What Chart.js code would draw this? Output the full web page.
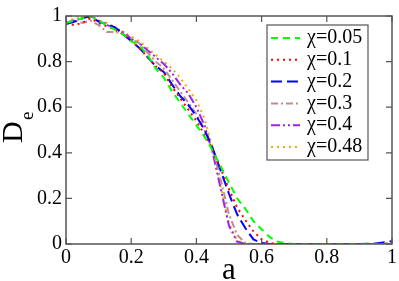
<!DOCTYPE html>
<html>
<head>
<meta charset="utf-8">
<script src="https://cdn.jsdelivr.net/npm/chart.js@4.4.1/dist/chart.umd.min.js"></script>
<style>
  html, body { margin: 0; padding: 0; background: #fff; }
  #wrap { width: 399px; height: 281px; }
</style>
</head>
<body>
<div id="wrap"><canvas id="deChart"></canvas></div>
<script>
const aValues = [0, 0.025, 0.05, 0.075, 0.1, 0.125, 0.15, 0.175, 0.2, 0.225, 0.25, 0.275, 0.3, 0.325, 0.35, 0.375, 0.4, 0.425, 0.45, 0.475, 0.5, 0.525, 0.55, 0.575, 0.6, 0.625, 0.65, 0.675, 0.7, 0.8, 0.9, 0.95, 1.0];

const chiLabels = ['χ=0.05', 'χ=0.1', 'χ=0.2', 'χ=0.3', 'χ=0.4', 'χ=0.48'];

const de005 = [0.97, 0.98, 0.99, 1.0, 0.98, 0.96, 0.94, 0.92, 0.89, 0.87, 0.83, 0.77, 0.73, 0.67, 0.62, 0.57, 0.52, 0.47, 0.41, 0.34, 0.27, 0.2, 0.155, 0.1, 0.065, 0.03, 0.01, 0.003, 0, 0, 0, 0, 0];
const de01  = [0.97, 0.96, 0.97, 0.99, 0.97, 0.955, 0.94, 0.92, 0.89, 0.86, 0.82, 0.78, 0.75, 0.69, 0.64, 0.59, 0.54, 0.48, 0.41, 0.33, 0.24, 0.16, 0.105, 0.055, 0.02, 0.005, 0, 0, 0, 0, 0, 0, 0.003];
const de02  = [0.965, 0.975, 0.99, 1.0, 0.975, 0.965, 0.95, 0.92, 0.89, 0.86, 0.82, 0.78, 0.755, 0.7, 0.65, 0.61, 0.56, 0.5, 0.42, 0.32, 0.22, 0.13, 0.07, 0.02, 0.004, 0, 0, 0, 0, 0, 0, 0.002, 0.012];
const de03  = [0.97, 0.98, 0.97, 0.98, 0.96, 0.93, 0.93, 0.92, 0.9, 0.88, 0.84, 0.8, 0.77, 0.72, 0.67, 0.62, 0.57, 0.5, 0.41, 0.28, 0.13, 0.04, 0.005, 0, 0, 0, 0, 0, 0, 0, 0, 0, 0];
const de04  = [0.97, 0.98, 0.99, 1.0, 0.98, 0.96, 0.95, 0.93, 0.9, 0.88, 0.85, 0.82, 0.79, 0.75, 0.7, 0.66, 0.6, 0.52, 0.4, 0.24, 0.08, 0.01, 0, 0, 0, 0, 0, 0, 0, 0, 0, 0, 0];
const de048 = [0.97, 0.99, 1.0, 0.99, 0.98, 0.97, 0.95, 0.93, 0.91, 0.89, 0.86, 0.83, 0.8, 0.77, 0.73, 0.68, 0.63, 0.55, 0.42, 0.25, 0.09, 0.015, 0, 0, 0, 0, 0, 0, 0, 0, 0, 0, 0];

const tickValues = [0, 0.2, 0.4, 0.6, 0.8, 1];

const seriesList = [de005, de01, de02, de03, de04, de048];
const colors = ['#00ff00', '#ff0000', '#0000ff', '#bc8f8f', '#a020f0', '#ffa500'];
const dashes = [[7, 5], [2, 4], [11, 5], [7, 3, 2, 3], [9, 3, 2, 3, 2, 3], [2, 4]];

function toPoints(ys) {
	return aValues.map((a, i) => ({ x: a, y: ys[i] }));
}

const serif = "'Liberation Serif', serif";

// inward ticks on all four sides, frame, axis titles, legend
const innerTicks = {
	id: 'innerTicks',
	afterDraw(chart) {
		const ctx = chart.ctx;
		const ca = chart.chartArea;
		const xs = chart.scales.x, ys = chart.scales.y;
		ctx.save();
		ctx.strokeStyle = '#555';
		ctx.lineWidth = 1.2;
		ctx.beginPath();
		tickValues.forEach(v => {
			const px = xs.getPixelForValue(v);
			ctx.moveTo(px, ca.bottom); ctx.lineTo(px, ca.bottom - 6);
			ctx.moveTo(px, ca.top); ctx.lineTo(px, ca.top + 6);
			const py = ys.getPixelForValue(v);
			ctx.moveTo(ca.left, py); ctx.lineTo(ca.left + 6, py);
			ctx.moveTo(ca.right, py); ctx.lineTo(ca.right - 6, py);
		});
		ctx.stroke();
		ctx.lineWidth = 1.5;
		ctx.strokeRect(ca.left, ca.top, ca.right - ca.left, ca.bottom - ca.top);

		ctx.fillStyle = '#000';
		ctx.font = '31px ' + serif;
		ctx.textAlign = 'center';
		ctx.textBaseline = 'alphabetic';
		ctx.fillText('a', 229, 279);

		ctx.translate(22, 143);
		ctx.rotate(-Math.PI / 2);
		ctx.textAlign = 'left';
		ctx.font = '30px ' + serif;
		ctx.fillText('D', 0, 0);
		ctx.font = '19px ' + serif;
		ctx.fillText('e', 23, 11);
		ctx.restore();

		ctx.save();
		const lx = 267, ly = 25, lw = 101, lh = 135;
		ctx.fillStyle = '#fff';
		ctx.fillRect(lx, ly, lw, lh);
		ctx.strokeStyle = '#555';
		ctx.lineWidth = 1.2;
		ctx.strokeRect(lx, ly, lw, lh);
		ctx.font = '20px ' + serif;
		ctx.textBaseline = 'middle';
		chiLabels.forEach((lab, i) => {
			const y = 38 + i * 21.8;
			ctx.strokeStyle = colors[i];
			ctx.lineWidth = 2;
			ctx.setLineDash(dashes[i]);
			ctx.beginPath();
			ctx.moveTo(271, y); ctx.lineTo(300, y);
			ctx.stroke();
			ctx.setLineDash([]);
			ctx.fillStyle = '#000';
			ctx.fillText(lab, 307, y);
		});
		ctx.restore();
	}
};

function makeChart() {
	new Chart(document.getElementById('deChart'), {
		type: 'scatter',
		data: {
			datasets: seriesList.map((ys, i) => ({
				label: chiLabels[i],
				data: toPoints(ys),
				showLine: true,
				borderColor: colors[i],
				backgroundColor: colors[i],
				borderWidth: 2,
				borderDash: dashes[i],
				pointRadius: 0,
				tension: 0
			}))
		},
		options: {
			responsive: true,
			maintainAspectRatio: false,
			animation: false,
			layout: { padding: { top: 7, right: 5, left: 0, bottom: 0 } },
			plugins: {
				legend: { display: false },
				tooltip: { enabled: false }
			},
			scales: {
				x: {
					type: 'linear',
					min: 0, max: 1,
					afterFit(s) { s.height = 37; },
					afterBuildTicks(s) { s.ticks = tickValues.map(v => ({ value: v })); },
					grid: { display: false, drawTicks: false },
					border: { display: false },
					ticks: {
						color: '#000',
						padding: 2,
						font: { family: serif, size: 20 },
						callback: v => String(v)
					}
				},
				y: {
					type: 'linear',
					min: 0, max: 1,
					afterFit(s) { s.width = 66; },
					afterBuildTicks(s) { s.ticks = tickValues.map(v => ({ value: v })); },
					grid: { display: false, drawTicks: false },
					border: { display: false },
					ticks: {
						color: '#000',
						padding: 4,
						font: { family: serif, size: 20 },
						callback: v => String(v)
					}
				}
			}
		},
		plugins: [innerTicks]
	});
}

Chart.defaults.font.family = serif;
Promise.all([
	document.fonts.load("20px 'Liberation Serif'"),
	document.fonts.load("20px 'Liberation Serif'", 'χ=0.05')
]).then(makeChart, makeChart);
</script>
</body>
</html>
